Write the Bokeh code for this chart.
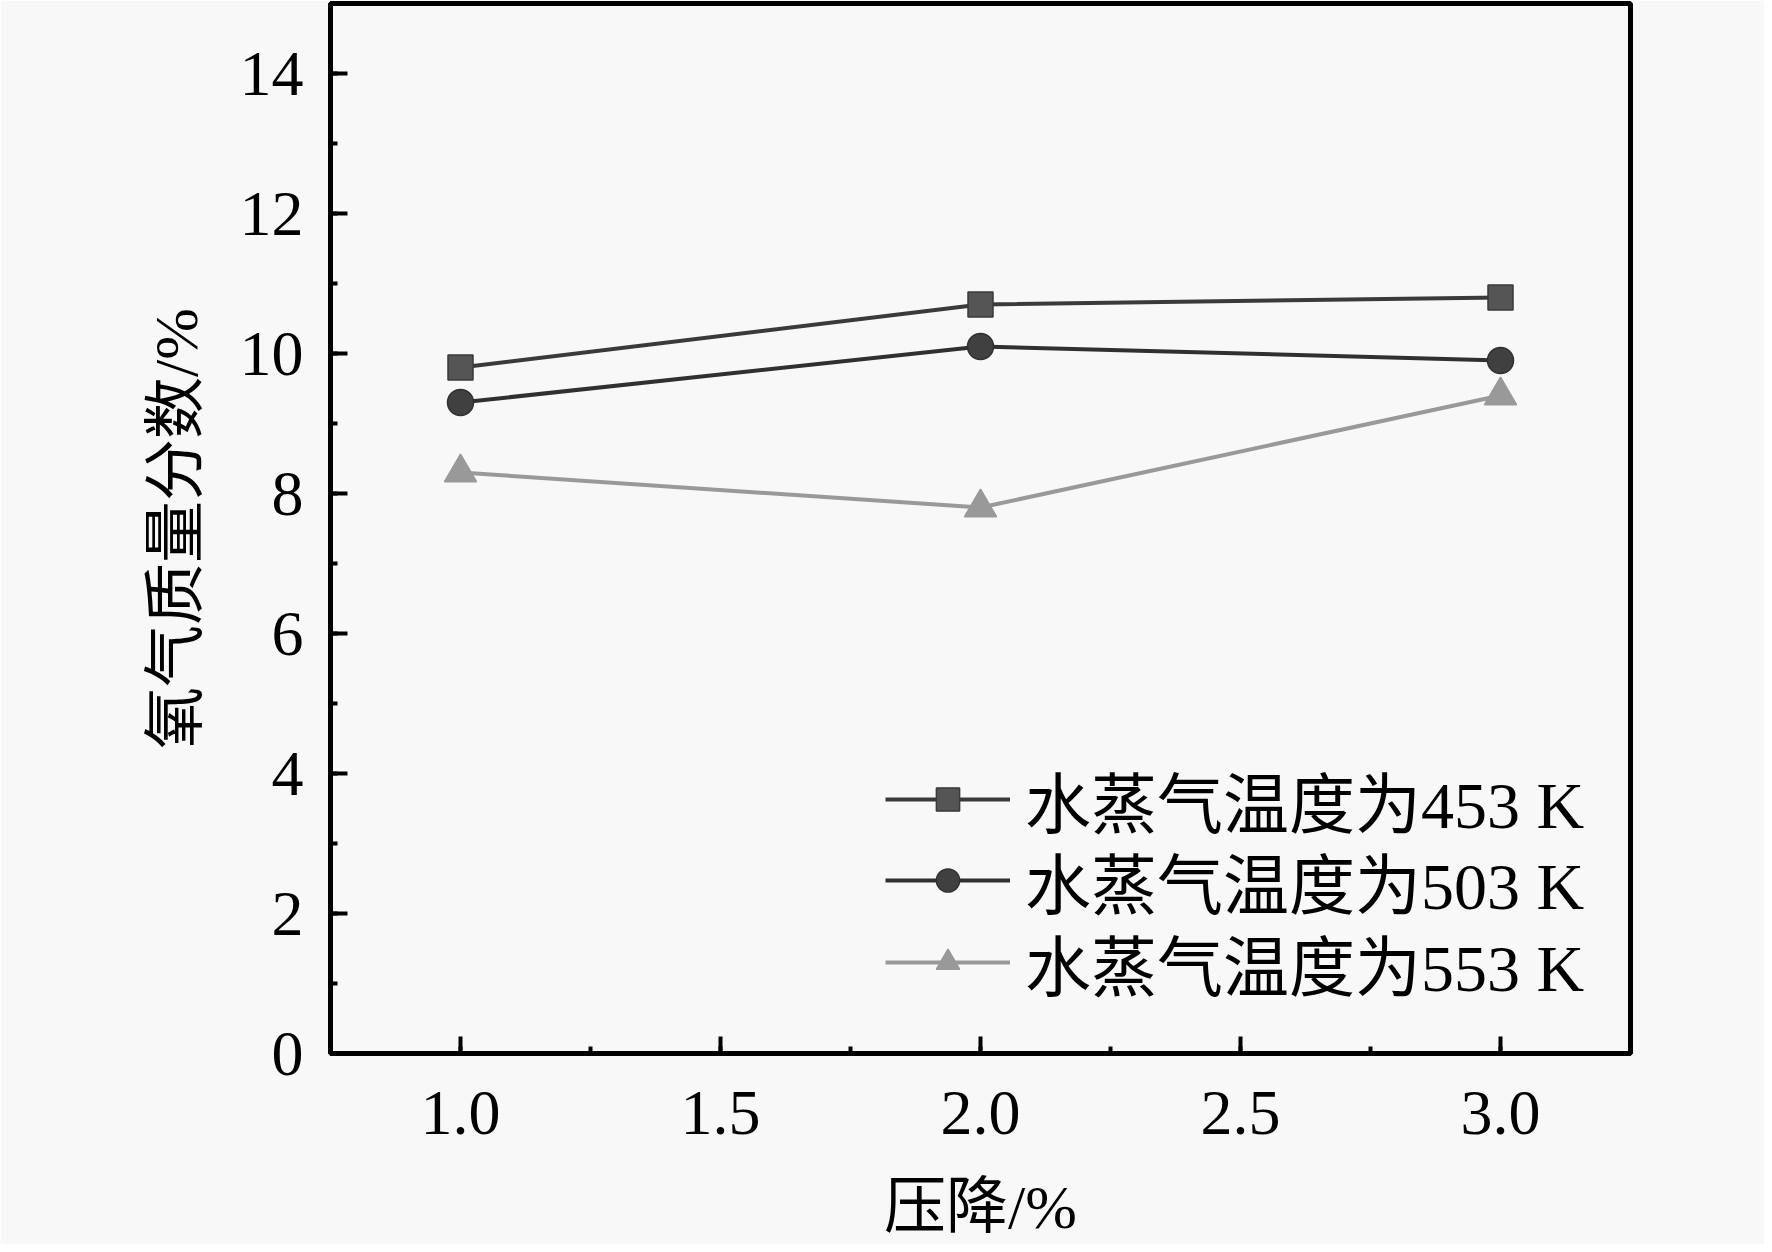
from bokeh.plotting import figure
from bokeh.models import SingleIntervalTicker, Range1d, Legend, LegendItem, PrintfTickFormatter
from bokeh.embed import file_html
from bokeh.resources import INLINE

pressure_drop = [1.0, 2.0, 3.0]
o2_453 = [9.8, 10.7, 10.8]
o2_503 = [9.3, 10.1, 9.9]
o2_553 = [8.3, 7.8, 9.4]
labels = ["水蒸气温度为453 K", "水蒸气温度为503 K", "水蒸气温度为553 K"]
x_title = "压降/%"
y_title = "氧气质量分数/%"

FONT = "Liberation Serif, Noto Sans CJK SC"
BG = "#f8f8f8"

p = figure(width=1764, height=1244, output_backend="svg", toolbar_location=None,
           x_range=Range1d(0.75, 3.25), y_range=Range1d(0, 15),
           min_border_left=330, min_border_right=134, min_border_top=3, min_border_bottom=191)
p.background_fill_color = BG
p.border_fill_color = BG
p.outline_line_color = "black"
p.outline_line_width = 5
p.xgrid.visible = False
p.ygrid.visible = False

p.xaxis.ticker = SingleIntervalTicker(interval=0.5, num_minor_ticks=2)
p.yaxis.ticker = SingleIntervalTicker(interval=2, num_minor_ticks=2)
p.xaxis.formatter = PrintfTickFormatter(format="%.1f")

for ax in (p.xaxis, p.yaxis):
    ax.axis_line_width = 5
    ax.axis_line_color = "black"
    ax.major_tick_in = 17
    ax.major_tick_out = 0
    ax.minor_tick_in = 7
    ax.minor_tick_out = 0
    ax.major_tick_line_width = 4
    ax.minor_tick_line_width = 4
    ax.major_label_text_font = FONT
    ax.major_label_text_font_size = "64px"
    ax.major_label_text_color = "black"
    ax.axis_label_text_font = FONT
    ax.axis_label_text_font_size = "62px"
    ax.axis_label_text_font_style = "normal"
    ax.axis_label_text_color = "black"

p.xaxis.axis_label = x_title
p.yaxis.axis_label = y_title
p.xaxis.major_label_standoff = 38
p.yaxis.major_label_standoff = 27
p.xaxis.axis_label_standoff = 36
p.yaxis.axis_label_standoff = 27

series = [
    (o2_453, "#3a3a3a", "#555555", "square", 25),
    (o2_503, "#303030", "#404040", "circle", 26),
    (o2_553, "#999999", "#999999", "triangle", 32),
]
legend_y = [206, 125, 43]
for (ys, lc, fc, marker, size), lab, ly in zip(series, labels, legend_y):
    l = p.line(pressure_drop, ys, line_color=lc, line_width=4)
    s = p.scatter(pressure_drop, ys, marker=marker, size=size, fill_color=fc,
                  line_color=lc, line_width=1.5)
    legend = Legend(items=[LegendItem(label=lab, renderers=[l, s])], location=(555, ly))
    legend.border_line_color = None
    legend.background_fill_alpha = 0
    legend.padding = 0
    legend.margin = 0
    legend.spacing = 0
    legend.glyph_width = 125
    legend.glyph_height = 58
    legend.label_height = 58
    legend.label_standoff = 15
    legend.label_text_font = FONT
    legend.label_text_font_size = "66px"
    legend.label_text_color = "black"
    legend.label_text_baseline = "middle"
    p.add_layout(legend, "center")

open("out.html", "w").write(file_html(p, INLINE))
